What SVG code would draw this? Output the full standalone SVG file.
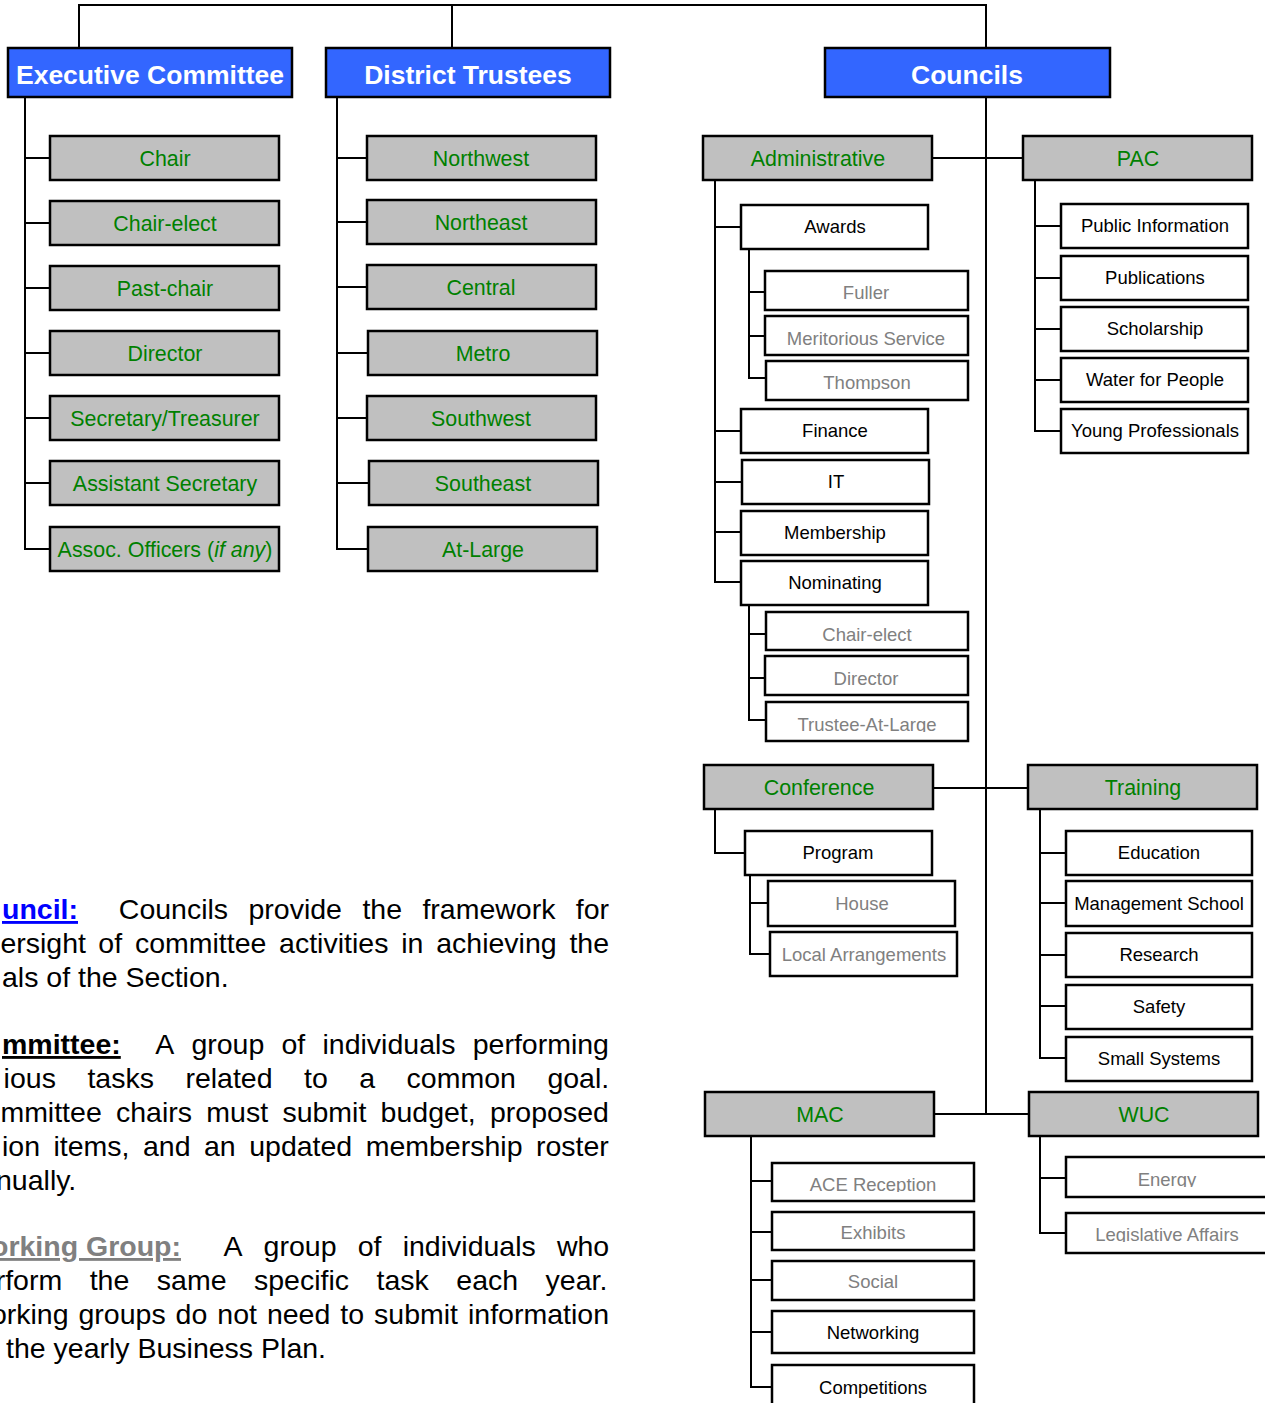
<svg xmlns="http://www.w3.org/2000/svg" width="1265" height="1403" viewBox="0 0 1265 1403">
<style>
text{font-family:"Liberation Sans",Arial,sans-serif}
.hdr rect{fill:#3366FF;stroke:#000;stroke-width:2.5}
.hdr text{fill:#fff;font-weight:bold;font-size:26.5px;text-anchor:middle}
.grp rect{fill:#C0C0C0;stroke:#000;stroke-width:2.5}
.grp text{fill:#008000;font-size:21.4px;text-anchor:middle}
.com rect{fill:#fff;stroke:#000;stroke-width:2.5}
.com text{fill:#000;font-size:18.5px;text-anchor:middle}
.wg rect{fill:#fff;stroke:#000;stroke-width:2.5}
.wg text{fill:#808080;font-size:18.5px;text-anchor:middle}
.conn path{fill:none;stroke:#000;stroke-width:2}
.para{font-size:28.5px;fill:#000}
.u{text-decoration:underline;font-weight:bold}
</style>
<defs>
<clipPath id="cThompson"><rect x="766" y="361" width="202" height="29"/></clipPath>
<clipPath id="cTrustee"><rect x="766" y="702" width="202" height="30"/></clipPath>
<clipPath id="cACE"><rect x="772" y="1163" width="202" height="29"/></clipPath>
<clipPath id="cEnergy"><rect x="1066" y="1157" width="202" height="30"/></clipPath>
<clipPath id="cLegis"><rect x="1066" y="1213" width="202" height="29"/></clipPath>
</defs>

<g id="connectors" class="conn">
<path d="M79,48 V5 H986 V48 M452,5 V48"/>
<path d="M25,97 V549 H50 M25,158 H50 M25,223 H50 M25,288 H50 M25,353 H50 M25,418 H50 M25,483 H50"/>
<path d="M337,97 V549 H368 M337,158 H367 M337,222 H367 M337,287 H367 M337,353 H368 M337,418 H367 M337,483 H369"/>
<path d="M986,97 V1114"/>
<path d="M932,158 H1023"/>
<path d="M715,180 V582 H741 M715,227 H741 M715,431 H741 M715,482 H742 M715,532 H741"/>
<path d="M749,249 V378 H766 M749,292 H765 M749,336 H765"/>
<path d="M749,605 V720 H766 M749,634 H766 M749,678 H765"/>
<path d="M1035,180 V431 H1061 M1035,226 H1061 M1035,278 H1061 M1035,329 H1061 M1035,380 H1061"/>
<path d="M933,788 H1028"/>
<path d="M715,809 V853 H745"/>
<path d="M750,875 V954 H770 M750,903 H768"/>
<path d="M1040,809 V1058 H1066 M1040,853 H1066 M1040,903 H1066 M1040,955 H1066 M1040,1006 H1066"/>
<path d="M934,1114 H1029"/>
<path d="M751,1136 V1387 H772 M751,1181 H772 M751,1232 H772 M751,1280 H772 M751,1332 H772"/>
<path d="M1040,1136 V1233 H1066 M1040,1178 H1066"/>
</g>

<g id="n-exec" class="hdr"><rect x="8" y="48" width="284" height="49"/><text x="150" y="84">Executive Committee</text></g>
<g id="n-dt" class="hdr"><rect x="326" y="48" width="284" height="49"/><text x="468" y="84">District Trustees</text></g>
<g id="n-councils" class="hdr"><rect x="825" y="48" width="285" height="49"/><text x="967" y="84">Councils</text></g>

<g id="n-chair" class="grp"><rect x="50" y="136" width="229" height="44"/><text x="165" y="166">Chair</text></g>
<g id="n-chairelect" class="grp"><rect x="50" y="201" width="229" height="44"/><text x="165" y="231">Chair-elect</text></g>
<g id="n-pastchair" class="grp"><rect x="50" y="266" width="229" height="44"/><text x="165" y="296">Past-chair</text></g>
<g id="n-director" class="grp"><rect x="50" y="331" width="229" height="44"/><text x="165" y="361">Director</text></g>
<g id="n-sectreas" class="grp"><rect x="50" y="396" width="229" height="44"/><text x="165" y="426">Secretary/Treasurer</text></g>
<g id="n-asstsec" class="grp"><rect x="50" y="461" width="229" height="44"/><text x="165" y="491">Assistant Secretary</text></g>
<g id="n-assoc" class="grp"><rect x="50" y="527" width="229" height="44"/><text x="165" y="557">Assoc. Officers (<tspan font-style="italic">if any</tspan>)</text></g>

<g id="n-northwest" class="grp"><rect x="367" y="136" width="229" height="44"/><text x="481" y="166">Northwest</text></g>
<g id="n-northeast" class="grp"><rect x="367" y="200" width="229" height="44"/><text x="481" y="230">Northeast</text></g>
<g id="n-central" class="grp"><rect x="367" y="265" width="229" height="44"/><text x="481" y="295">Central</text></g>
<g id="n-metro" class="grp"><rect x="368" y="331" width="229" height="44"/><text x="483" y="361">Metro</text></g>
<g id="n-southwest" class="grp"><rect x="367" y="396" width="229" height="44"/><text x="481" y="426">Southwest</text></g>
<g id="n-southeast" class="grp"><rect x="369" y="461" width="229" height="44"/><text x="483" y="491">Southeast</text></g>
<g id="n-atlarge" class="grp"><rect x="368" y="527" width="229" height="44"/><text x="483" y="557">At-Large</text></g>

<g id="n-admin" class="grp"><rect x="703" y="136" width="229" height="44"/><text x="818" y="166">Administrative</text></g>
<g id="n-pac" class="grp"><rect x="1023" y="136" width="229" height="44"/><text x="1138" y="166">PAC</text></g>

<g id="n-awards" class="com"><rect x="741" y="205" width="187" height="44"/><text x="835" y="233">Awards</text></g>
<g id="n-fuller" class="wg"><rect x="765" y="271" width="203" height="39"/><text x="866" y="299">Fuller</text></g>
<g id="n-meritorious" class="wg"><rect x="765" y="316" width="203" height="39"/><text x="866" y="345">Meritorious Service</text></g>
<g id="n-thompson" class="wg"><rect x="766" y="361" width="202" height="39"/><text x="867" y="389" clip-path="url(#cThompson)">Thompson</text></g>
<g id="n-finance" class="com"><rect x="741" y="409" width="187" height="44"/><text x="835" y="437">Finance</text></g>
<g id="n-it" class="com"><rect x="742" y="460" width="187" height="44"/><text x="836" y="488">IT</text></g>
<g id="n-membership" class="com"><rect x="741" y="511" width="187" height="44"/><text x="835" y="539">Membership</text></g>
<g id="n-nominating" class="com"><rect x="741" y="561" width="187" height="44"/><text x="835" y="589">Nominating</text></g>
<g id="n-nom-chairelect" class="wg"><rect x="766" y="612" width="202" height="38"/><text x="867" y="641">Chair-elect</text></g>
<g id="n-nom-director" class="wg"><rect x="765" y="656" width="203" height="39"/><text x="866" y="685">Director</text></g>
<g id="n-nom-trustee" class="wg"><rect x="766" y="702" width="202" height="39"/><text x="867" y="731" clip-path="url(#cTrustee)">Trustee-At-Large</text></g>

<g id="n-pubinfo" class="com"><rect x="1061" y="204" width="187" height="44"/><text x="1155" y="232">Public Information</text></g>
<g id="n-publications" class="com"><rect x="1061" y="256" width="187" height="44"/><text x="1155" y="284">Publications</text></g>
<g id="n-scholarship" class="com"><rect x="1061" y="307" width="187" height="44"/><text x="1155" y="335">Scholarship</text></g>
<g id="n-water" class="com"><rect x="1061" y="358" width="187" height="44"/><text x="1155" y="386">Water for People</text></g>
<g id="n-young" class="com"><rect x="1061" y="409" width="187" height="44"/><text x="1155" y="437">Young Professionals</text></g>

<g id="n-conference" class="grp"><rect x="704" y="765" width="229" height="44"/><text x="819" y="795">Conference</text></g>
<g id="n-training" class="grp"><rect x="1028" y="765" width="229" height="44"/><text x="1143" y="795">Training</text></g>
<g id="n-program" class="com"><rect x="745" y="831" width="187" height="44"/><text x="838" y="859">Program</text></g>
<g id="n-house" class="wg"><rect x="768" y="881" width="187" height="45"/><text x="862" y="910">House</text></g>
<g id="n-localarr" class="wg"><rect x="770" y="932" width="187" height="44"/><text x="864" y="961">Local Arrangements</text></g>

<g id="n-education" class="com"><rect x="1066" y="831" width="186" height="44"/><text x="1159" y="859">Education</text></g>
<g id="n-mgmt" class="com"><rect x="1066" y="881" width="186" height="45"/><text x="1159" y="910">Management School</text></g>
<g id="n-research" class="com"><rect x="1066" y="933" width="186" height="44"/><text x="1159" y="961">Research</text></g>
<g id="n-safety" class="com"><rect x="1066" y="985" width="186" height="44"/><text x="1159" y="1013">Safety</text></g>
<g id="n-smallsys" class="com"><rect x="1066" y="1037" width="186" height="44"/><text x="1159" y="1065">Small Systems</text></g>

<g id="n-mac" class="grp"><rect x="705" y="1092" width="229" height="44"/><text x="820" y="1122">MAC</text></g>
<g id="n-wuc" class="grp"><rect x="1029" y="1092" width="229" height="44"/><text x="1144" y="1122">WUC</text></g>
<g id="n-ace" class="wg"><rect x="772" y="1163" width="202" height="38"/><text x="873" y="1191" clip-path="url(#cACE)">ACE Reception</text></g>
<g id="n-exhibits" class="wg"><rect x="772" y="1212" width="202" height="38"/><text x="873" y="1239">Exhibits</text></g>
<g id="n-social" class="wg"><rect x="772" y="1261" width="202" height="39"/><text x="873" y="1288">Social</text></g>
<g id="n-networking" class="com"><rect x="772" y="1311" width="202" height="42"/><text x="873" y="1339">Networking</text></g>
<g id="n-competitions" class="com"><rect x="772" y="1365" width="202" height="50"/><text x="873" y="1394">Competitions</text></g>
<g id="n-energy" class="wg"><rect x="1066" y="1157" width="202" height="40"/><text x="1167" y="1186" clip-path="url(#cEnergy)">Energy</text></g>
<g id="n-legis" class="wg"><rect x="1066" y="1213" width="202" height="40"/><text x="1167" y="1241" clip-path="url(#cLegis)">Legislative Affairs</text></g>

<g id="definitions" class="para">
<text y="919"><tspan x="2" class="u" fill="#0000FF">uncil:</tspan><tspan x="118.8">Councils</tspan><tspan x="248.5">provide</tspan><tspan x="362.4">the</tspan><tspan x="422.4">framework</tspan><tspan x="575.8">for</tspan></text>
<text y="953"><tspan x="0.4">ersight</tspan><tspan x="98.3">of</tspan><tspan x="134.9">committee</tspan><tspan x="279.1">activities</tspan><tspan x="401.2">in</tspan><tspan x="436.2">achieving</tspan><tspan x="569.4">the</tspan></text>
<text y="987" x="2">als of the Section.</text>
<text y="1054"><tspan x="2" class="u">mmittee:</tspan><tspan x="155.2">A</tspan><tspan x="191.4">group</tspan><tspan x="281.5">of</tspan><tspan x="322.5">individuals</tspan><tspan x="472.7">performing</tspan></text>
<text y="1088"><tspan x="3.6">ious</tspan><tspan x="87.4">tasks</tspan><tspan x="185.4">related</tspan><tspan x="304">to</tspan><tspan x="359.3">a</tspan><tspan x="406.6">common</tspan><tspan x="547.4">goal.</tspan></text>
<text y="1122"><tspan x="0.4">mmittee</tspan><tspan x="116">chairs</tspan><tspan x="206.3">must</tspan><tspan x="282.4">submit</tspan><tspan x="380.6">budget,</tspan><tspan x="490">proposed</tspan></text>
<text y="1156"><tspan x="2">ion</tspan><tspan x="53.5">items,</tspan><tspan x="143">and</tspan><tspan x="204">an</tspan><tspan x="249.2">updated</tspan><tspan x="365.7">membership</tspan><tspan x="536">roster</tspan></text>
<text y="1190" x="-4">nually.</text>
<text y="1256"><tspan x="-9" class="u" fill="#808080">orking Group:</tspan><tspan x="223.4">A</tspan><tspan x="263.6">group</tspan><tspan x="357.7">of</tspan><tspan x="402.7">individuals</tspan><tspan x="556.9">who</tspan></text>
<text y="1290"><tspan x="-4.3">rform</tspan><tspan x="89.7">the</tspan><tspan x="156.8">same</tspan><tspan x="254">specific</tspan><tspan x="376.5">task</tspan><tspan x="456.3">each</tspan><tspan x="545.6">year.</tspan></text>
<text y="1324"><tspan x="-9.1">orking</tspan><tspan x="78.5">groups</tspan><tspan x="175.6">do</tspan><tspan x="217.3">not</tspan><tspan x="266.9">need</tspan><tspan x="340.3">to</tspan><tspan x="374.1">submit</tspan><tspan x="468">information</tspan></text>
<text y="1358" x="6">the yearly Business Plan.</text>
</g>
</svg>
